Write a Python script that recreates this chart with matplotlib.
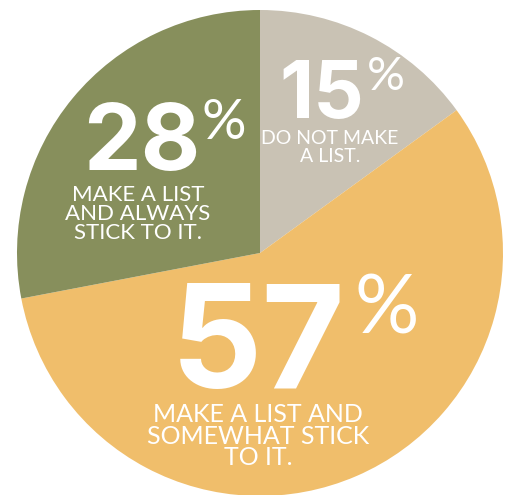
import matplotlib.pyplot as plt

# Данные
shares = [15, 57, 28]
labels = ['DO NOT MAKE\nA LIST.', 'MAKE A LIST AND\nSOMEWHAT STICK\nTO IT.', 'MAKE A LIST\nAND ALWAYS\nSTICK TO IT.']
colors = ['#C9C2B4', '#F0BE6B', '#878F5C']

W, H = 505, 495
fig = plt.figure(figsize=(W / 100, H / 100), dpi=100)
ax = fig.add_axes([0, 0, 1, 1])

ax.pie(shares, colors=colors, startangle=90, counterclock=False,
       center=(260, H - 253), radius=243, frame=True,
       wedgeprops=dict(linewidth=0))
ax.set_xlim(0, W)
ax.set_ylim(0, H)
ax.axis('off')

num_font = 'Inter'
lab_font = 'Lato'
# позиции в пикселях картинки: правый край числа, базовая линия, размеры, % и подпись
layout = [
    dict(nx=364, ny=118, ns=57, px=367, py=56, ps=34, lx=330, ly=130, ls=14, lsp=1.1),
    dict(nx=346, ny=388, ns=103, px=354, py=274, ps=58, lx=258, ly=403, ls=18, lsp=0.93),
    dict(nx=200, ny=170, ns=66, px=201, py=98, ps=40, lx=138, ly=185, ls=16, lsp=0.93),
]

for share, label, p in zip(shares, labels, layout):
    ax.text(p['nx'], H - p['ny'], str(share), ha='right', va='baseline',
            fontsize=p['ns'], fontweight='bold', color='white', family=num_font)
    ax.text(p['px'], H - p['py'], '%', ha='left', va='top',
            fontsize=p['ps'], color='white', family=lab_font)
    ax.text(p['lx'], H - p['ly'], label, ha='center', va='top', multialignment='center',
            fontsize=p['ls'], color='white', family=lab_font, linespacing=p['lsp'])

fig.savefig('out.png', dpi=100, facecolor='white')
